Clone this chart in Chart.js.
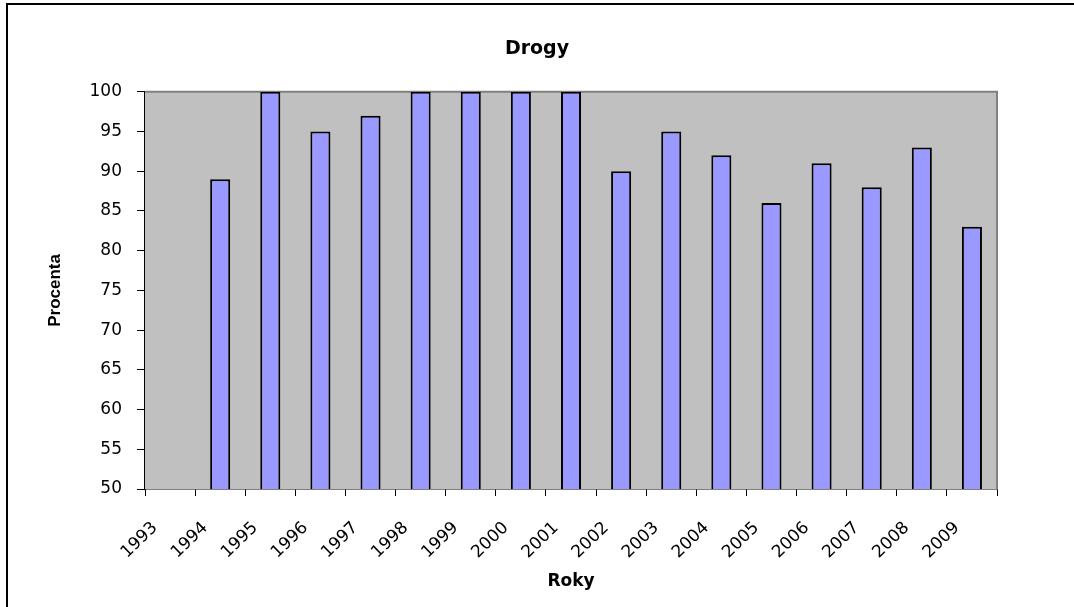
<!DOCTYPE html>
<html>
<head>
<meta charset="utf-8">
<script src="https://cdn.jsdelivr.net/npm/chart.js@4.4.0/dist/chart.umd.min.js"></script>
<style>
html,body{margin:0;padding:0;background:#fff;}
#wrap{position:relative;width:1074px;height:607px;}
</style>
</head>
<body>
<div id="wrap"><canvas id="c" width="1074" height="607"></canvas></div>
<script>
const chartTitle = 'Drogy';
const xTitle = 'Roky';
const yTitle = 'Procenta';
const years = ['1993','1994','1995','1996','1997','1998','1999','2000','2001','2002','2003','2004','2005','2006','2007','2008','2009'];
const percent = [null,89,100,95,97,100,100,100,100,90,95,92,86,91,88,93,83];
const yMin = 50, yMax = 100, yStep = 5;

const framePlugin = {
  id: 'frame',
  beforeDatasetsDraw(chart) {
    const {ctx, chartArea: a} = chart;
    ctx.save();
    ctx.fillStyle = '#C0C0C0';
    ctx.fillRect(a.left, a.top, a.right - a.left, a.bottom - a.top);
    ctx.strokeStyle = '#808080';
    ctx.lineWidth = 2;
    ctx.beginPath();
    ctx.moveTo(a.left, a.top);
    ctx.lineTo(a.right, a.top);
    ctx.lineTo(a.right, a.bottom);
    ctx.stroke();
    ctx.restore();
  },
  afterDraw(chart) {
    const {ctx, width, height} = chart;
    ctx.save();
    ctx.strokeStyle = '#000';
    ctx.lineWidth = 2;
    ctx.beginPath();
    ctx.moveTo(7, height);
    ctx.lineTo(7, 4);
    ctx.lineTo(width, 4);
    ctx.stroke();
    ctx.restore();
  }
};

new Chart(document.getElementById('c'), {
  type: 'bar',
  data: {
    labels: years,
    datasets: [{
      data: percent,
      backgroundColor: '#9999FF',
      borderColor: '#000000',
      borderWidth: 2,
      barPercentage: 0.4,
      categoryPercentage: 1.0
    }]
  },
  options: {
    responsive: false,
    animation: false,
    layout: {padding: {left: 0, right: 0, top: 0, bottom: 0}},
    plugins: {
      legend: {display: false},
      tooltip: {enabled: false},
      title: {
        display: true,
        text: chartTitle,
        color: '#000',
        font: {family: 'DejaVu Sans', size: 19, weight: 'bold', lineHeight: 1.2},
        padding: {top: 38, bottom: 31}
      }
    },
    scales: {
      x: {
        grid: {display: true, drawOnChartArea: false, drawTicks: true, tickLength: 7, color: '#000', lineWidth: 1},
        border: {display: true, color: '#000', width: 1.5},
        ticks: {
          color: '#000',
          font: {family: 'DejaVu Sans', size: 17},
          minRotation: 44, maxRotation: 44,
          autoSkip: false,
          labelOffset: -15,
          padding: 22
        },
        title: {
          display: true, text: xTitle, color: '#000',
          font: {family: 'DejaVu Sans', size: 17, weight: 'bold', lineHeight: 1.2},
          padding: {top: 0, bottom: 15}
        },
        afterFit(s) { s.height = 118; }
      },
      y: {
        min: yMin, max: yMax,
        grid: {display: true, drawOnChartArea: false, drawTicks: true, tickLength: 8, color: '#000', lineWidth: 1},
        border: {display: true, color: '#000', width: 1.5},
        ticks: {
          stepSize: yStep,
          color: '#000',
          font: {family: 'DejaVu Sans', size: 17},
          padding: 15
        },
        title: {
          display: true, text: yTitle, color: '#000',
          font: {family: 'Liberation Sans', size: 17, weight: 'bold', lineHeight: 1.2},
          padding: {top: 45, bottom: 0}
        },
        afterFit(s) { s.width = 145; }
      },
      yRight: {
        position: 'right',
        display: true,
        grid: {display: false, drawTicks: false},
        border: {display: false},
        ticks: {display: false},
        afterFit(s) { s.width = 77; }
      }
    }
  },
  plugins: [framePlugin]
});
</script>
</body>
</html>
